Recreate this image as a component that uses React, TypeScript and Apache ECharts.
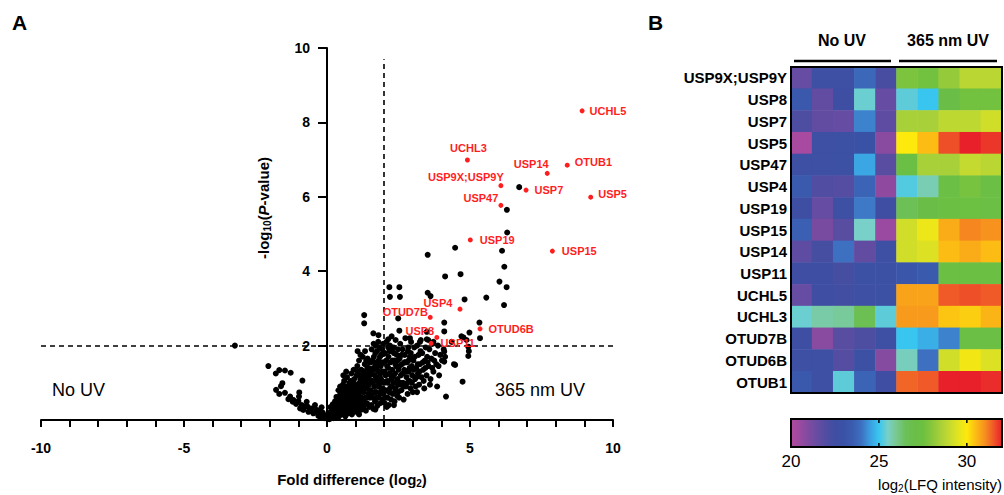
import React, { useEffect, useRef } from "react";
import * as echarts from "echarts";

// ---------------- Panel A data ----------------
const X_MIN = -10, X_MAX = 10, X_INTERVAL = 1;
const Y_MIN = 0, Y_MAX = 10, Y_INTERVAL = 2;
const FC_THRESHOLD = 2;
const P_THRESHOLD = 2;
const FC_LINE_TOP = 9.7;

const negativeSide: [number, number][] = [
  [-3.22, 2.0], [-2.05, 1.45], [-1.79, 1.25], [-1.67, 1.34], [-1.47, 1.33], [-1.27, 1.27], [-0.86, 1.06],
  [-1.56, 0.99], [-1.61, 0.91], [-1.78, 0.81], [-1.67, 0.7], [-1.47, 0.73], [-1.29, 0.63], [-1.18, 0.54],
  [-0.97, 0.74], [-0.98, 0.63], [-1.0, 0.51], [-1.08, 0.43], [-0.88, 0.4], [-0.71, 0.49], [-0.68, 0.36],
  [-0.54, 0.31], [-0.42, 0.4], [-0.36, 0.27], [-0.24, 0.22], [-0.19, 0.34], [-0.13, 0.13], [-0.03, 0.07],
  [-0.83, 0.27], [-0.65, 0.22], [-0.48, 0.18], [-0.3, 0.11], [-1.2, 0.49], [-1.35, 0.56], [-0.94, 0.31],
  [-0.77, 0.36], [-0.57, 0.25], [-0.38, 0.2], [-0.1, 0.05], [-0.15, 0.2], [-0.06, 0.12], [-0.22, 0.08],
];

const cloudNear: [number, number][] = [
  [0.02, 0.03], [0.05, 0.08], [0.08, 0.02], [0.1, 0.12], [0.12, 0.2], [0.15, 0.05], [0.18, 0.15], [0.2, 0.28],
  [0.22, 0.1], [0.25, 0.35], [0.27, 0.2], [0.3, 0.06], [0.3, 0.45], [0.32, 0.28], [0.35, 0.15], [0.36, 0.55],
  [0.38, 0.38], [0.4, 0.22], [0.42, 0.1], [0.42, 0.62], [0.44, 0.45], [0.45, 0.3], [0.47, 0.72], [0.48, 0.18],
  [0.5, 0.52], [0.5, 0.38], [0.15, 0.3], [0.2, 0.42], [0.25, 0.12], [0.33, 0.62], [0.4, 0.8], [0.46, 0.9],
  [0.06, 0.18], [0.28, 0.5], [0.37, 0.08], [0.12, 0.35],
  [0.52, 0.15], [0.53, 0.7], [0.55, 0.4], [0.56, 0.95], [0.58, 0.28], [0.6, 0.55], [0.6, 1.05], [0.62, 0.2],
  [0.63, 0.8], [0.65, 0.45], [0.66, 0.65], [0.68, 0.32], [0.7, 1.15], [0.7, 0.9], [0.72, 0.5], [0.73, 0.18],
  [0.75, 0.72], [0.76, 0.38], [0.78, 1.0], [0.8, 0.6], [0.8, 0.25], [0.82, 0.85], [0.84, 0.45], [0.85, 1.25],
  [0.86, 0.68], [0.88, 0.3], [0.9, 0.95], [0.9, 0.55], [0.92, 0.78], [0.94, 0.4], [0.95, 1.1], [0.96, 0.22],
  [0.98, 0.65], [1.0, 0.88], [1.0, 0.48], [0.57, 1.2], [0.67, 1.3], [0.74, 0.6], [0.83, 1.05], [0.93, 1.35],
  [0.55, 0.85], [0.64, 0.1], [0.87, 0.15], [0.79, 0.82],
];

const cloudMid: [number, number][] = [
  [1.02, 0.3], [1.03, 1.2], [1.05, 0.7], [1.06, 1.45], [1.08, 0.5], [1.1, 0.95], [1.1, 0.2], [1.12, 1.6],
  [1.13, 0.82], [1.15, 0.4], [1.16, 1.1], [1.18, 0.62], [1.2, 1.35], [1.2, 0.28], [1.22, 0.9], [1.24, 0.5],
  [1.25, 1.7], [1.26, 1.2], [1.28, 0.75], [1.3, 0.38], [1.3, 1.0], [1.32, 1.5], [1.34, 0.6], [1.35, 1.3],
  [1.36, 0.25], [1.38, 0.85], [1.4, 1.1], [1.4, 0.45], [1.42, 1.65], [1.44, 0.7], [1.45, 1.4], [1.46, 0.95],
  [1.48, 0.35], [1.5, 1.2], [1.5, 0.6], [1.07, 1.85], [1.17, 1.75], [1.33, 1.85], [1.12, 0.15], [1.27, 0.98],
  [1.43, 1.25], [1.23, 0.4], [1.37, 1.6],
  [1.52, 0.8], [1.53, 1.55], [1.55, 0.4], [1.56, 1.9], [1.58, 1.05], [1.6, 0.6], [1.6, 1.35], [1.62, 0.3],
  [1.64, 1.7], [1.65, 0.9], [1.66, 1.2], [1.68, 0.5], [1.7, 1.5], [1.7, 2.0], [1.72, 0.75], [1.74, 1.05],
  [1.75, 1.85], [1.76, 0.38], [1.78, 1.3], [1.8, 0.6], [1.8, 1.6], [1.82, 0.95], [1.84, 1.95], [1.85, 1.15],
  [1.86, 0.45], [1.88, 1.45], [1.9, 0.8], [1.9, 1.75], [1.92, 1.05], [1.94, 0.55], [1.95, 1.3], [1.96, 2.05],
  [1.98, 0.7], [2.0, 1.55], [2.0, 1.0], [1.57, 1.25], [1.63, 2.05], [1.69, 0.28], [1.73, 1.4], [1.79, 2.1],
  [1.87, 1.25], [1.93, 1.9], [1.54, 1.05], [1.67, 1.55],
];

const cloudFar: [number, number][] = [
  [2.02, 0.45], [2.03, 1.8], [2.05, 1.2], [2.06, 0.8], [2.08, 2.1], [2.1, 1.45], [2.12, 0.6], [2.13, 1.0],
  [2.15, 1.7], [2.16, 0.4], [2.18, 1.25], [2.2, 2.0], [2.2, 0.85], [2.22, 1.55], [2.24, 0.55], [2.25, 1.1],
  [2.27, 1.85], [2.28, 1.35], [2.3, 0.7], [2.32, 1.95], [2.33, 1.0], [2.35, 1.6], [2.36, 0.5], [2.38, 1.25],
  [2.4, 2.15], [2.4, 0.85], [2.42, 1.45], [2.44, 1.75], [2.45, 0.65], [2.46, 1.1], [2.48, 1.9], [2.5, 1.35],
  [2.5, 0.95], [2.09, 0.35], [2.26, 2.25], [2.34, 0.4], [2.14, 1.95],
  [2.52, 0.6], [2.54, 1.65], [2.56, 2.05], [2.58, 1.2], [2.6, 0.8], [2.62, 1.5], [2.64, 1.9], [2.66, 1.0],
  [2.68, 0.55], [2.7, 1.35], [2.72, 1.75], [2.74, 2.2], [2.76, 0.9], [2.78, 1.15], [2.8, 1.55], [2.82, 0.7],
  [2.84, 1.95], [2.86, 1.3], [2.88, 1.05], [2.9, 1.7], [2.92, 0.85], [2.94, 2.1], [2.96, 1.45], [2.98, 1.2],
  [3.0, 0.75], [2.59, 0.95], [2.71, 1.55], [2.83, 1.85],
  [3.02, 1.6], [3.05, 1.95], [3.08, 1.1], [3.1, 0.9], [3.12, 1.4], [3.15, 2.0], [3.18, 1.25], [3.2, 1.75],
  [3.22, 0.95], [3.25, 1.5], [3.28, 2.15], [3.3, 1.15], [3.33, 1.8], [3.36, 1.35], [3.4, 0.85], [3.42, 1.6],
  [3.45, 1.95], [3.48, 1.2], [3.5, 1.7], [3.15, 0.75],
  [3.55, 1.45], [3.58, 1.9], [3.62, 1.1], [3.65, 1.65], [3.7, 2.05], [3.72, 1.3], [3.78, 1.8], [3.82, 1.5],
  [3.88, 2.0], [3.92, 1.2], [3.96, 1.75], [4.02, 1.6], [4.08, 1.9], [3.6, 0.95], [3.85, 0.9],
];

const cloudDense: [number, number][] = [
  [0.15, 0.22], [0.22, 0.05], [0.28, 0.32], [0.34, 0.42], [0.4, 0.5], [0.45, 0.6], [0.5, 0.25], [0.55, 0.55],
  [0.6, 0.75], [0.62, 0.42], [0.68, 0.58], [0.7, 0.25], [0.72, 0.85], [0.77, 0.5], [0.8, 0.95], [0.82, 0.35],
  [0.85, 0.58], [0.88, 0.82], [0.9, 0.4], [0.93, 1.0], [0.97, 0.75], [1.0, 0.6], [1.03, 0.95], [1.05, 0.4],
  [1.08, 1.3], [1.1, 0.7], [1.14, 1.0], [1.16, 0.55], [1.19, 1.2], [1.21, 0.78], [1.25, 1.05], [1.28, 0.55],
  [1.3, 1.3], [1.33, 0.85], [1.36, 1.15], [1.39, 0.6], [1.41, 1.4], [1.44, 0.95], [1.47, 1.55], [1.49, 0.8],
  [1.52, 1.35], [1.55, 0.65], [1.58, 1.6], [1.61, 1.0], [1.63, 1.4], [1.66, 0.75], [1.69, 1.8], [1.71, 1.15],
  [1.74, 0.6], [1.77, 1.5], [1.79, 0.9], [1.82, 1.3], [1.85, 1.7], [1.87, 0.7], [1.89, 1.1], [1.92, 1.55],
  [1.95, 0.85], [1.97, 1.8], [2.01, 1.3], [2.04, 0.6], [2.07, 1.6], [2.11, 1.05], [2.14, 1.4], [2.17, 0.75],
  [2.19, 1.85], [2.23, 1.2], [2.26, 0.9], [2.29, 1.6], [2.31, 1.15], [2.34, 1.8], [2.37, 0.75], [2.39, 1.5],
  [2.43, 1.0], [2.47, 1.6], [2.49, 0.75], [2.53, 1.45], [2.57, 1.0], [2.61, 1.75], [2.65, 1.25], [2.69, 0.9],
  [2.73, 1.55], [2.77, 1.3], [2.81, 1.0], [2.85, 1.6], [2.89, 1.4], [2.93, 1.8], [2.97, 1.0], [3.03, 1.35],
  [3.07, 1.7], [3.13, 1.15], [3.17, 1.5], [3.23, 1.3], [3.27, 1.85], [3.35, 1.55], [3.38, 1.05], [3.44, 1.4],
  [3.52, 1.55], [3.68, 1.4], [3.75, 1.6], [3.9, 1.45],
];

const outliers: [number, number][] = [
  [6.72, 6.26], [6.29, 5.65], [6.3, 5.04], [6.12, 4.55], [6.2, 4.12], [6.03, 3.72], [6.28, 3.57], [6.19, 3.09],
  [4.48, 4.63], [3.52, 4.44], [4.13, 3.86], [4.67, 3.92], [2.18, 3.57], [2.53, 3.57], [2.2, 3.31], [2.55, 3.31],
  [3.52, 3.42], [3.62, 3.33], [4.81, 3.24], [5.57, 3.29], [2.49, 2.73], [1.3, 2.82], [1.3, 2.6], [2.53, 2.4],
  [4.1, 2.62], [4.1, 2.38], [5.33, 2.62], [5.35, 2.2], [4.98, 2.35], [4.77, 2.22], [4.88, 2.15], [4.7, 2.25],
  [1.62, 2.33], [1.8, 2.28], [2.14, 2.17], [2.9, 2.2], [3.25, 2.1], [3.49, 2.17], [3.72, 2.1], [3.49, 2.37],
  [3.54, 2.15], [4.36, 2.1], [4.94, 1.97], [4.94, 1.72], [4.96, 1.85], [4.48, 1.48], [4.13, 1.7], [4.1, 1.84],
  [4.1, 1.57], [4.44, 1.5], [4.74, 1.03], [4.16, 0.63],
];

const dubNames = ["UCHL5", "UCHL3", "USP14", "OTUB1", "USP9X;USP9Y", "USP7", "USP5", "USP47", "USP19", "USP15", "USP4", "OTUD7B", "OTUD6B", "USP8", "USP11"];
const dubFold = [8.92, 4.91, 7.70, 8.40, 6.08, 6.96, 9.22, 6.08, 5.01, 7.88, 4.65, 3.61, 5.35, 3.84, 3.64];
const dubLogP = [8.31, 6.99, 6.63, 6.85, 6.30, 6.18, 5.99, 5.77, 4.84, 4.54, 2.98, 2.76, 2.45, 2.22, 2.06];

// label placement (layout only)
const LABEL_LAYOUT: Record<string, { pos: string; offset: number[]; distance: number }> = {
  UCHL5: { pos: "right", offset: [0, 0], distance: 5 },
  UCHL3: { pos: "top", offset: [1, -4], distance: 0 },
  USP14: { pos: "top", offset: [-16, -1], distance: 0 },
  OTUB1: { pos: "right", offset: [0, -3], distance: 5 },
  "USP9X;USP9Y": { pos: "top", offset: [-35, -1], distance: 0 },
  USP7: { pos: "right", offset: [0, 0], distance: 6 },
  USP5: { pos: "right", offset: [0, -3], distance: 5 },
  USP47: { pos: "top", offset: [-20, 1], distance: 0 },
  USP19: { pos: "right", offset: [0, 0], distance: 7 },
  USP15: { pos: "right", offset: [0, 0], distance: 7 },
  USP4: { pos: "top", offset: [-22, 2], distance: 0 },
  OTUD7B: { pos: "top", offset: [-25, 3], distance: 0 },
  OTUD6B: { pos: "right", offset: [0, 0], distance: 6 },
  USP8: { pos: "top", offset: [-17, 2], distance: 0 },
  USP11: { pos: "right", offset: [0, 0], distance: 7 },
};

// ---------------- Panel B data ----------------
const hmGenes = ["USP9X;USP9Y", "USP8", "USP7", "USP5", "USP47", "USP4", "USP19", "USP15", "USP14", "USP11", "UCHL5", "UCHL3", "OTUD7B", "OTUD6B", "OTUB1"];
const hmSamples = ["No UV 1", "No UV 2", "No UV 3", "No UV 4", "No UV 5", "365 nm UV 1", "365 nm UV 2", "365 nm UV 3", "365 nm UV 4", "365 nm UV 5"];
const hmValues: number[][] = [
  [21.5, 22.7, 22.7, 23.8, 22.2, 27.8, 27.6, 28.2, 28.8, 28.8],
  [23.3, 21.6, 22.6, 25.4, 21.5, 25.3, 25.0, 27.0, 27.6, 27.6],
  [22.1, 21.6, 21.5, 24.2, 21.7, 28.5, 28.5, 28.9, 28.9, 29.2],
  [20.2, 22.7, 22.8, 23.0, 20.8, 30.0, 30.5, 31.6, 32.0, 31.8],
  [22.7, 22.7, 22.8, 24.6, 21.8, 27.2, 28.5, 28.5, 29.0, 28.8],
  [23.4, 22.0, 21.9, 23.7, 20.7, 25.2, 25.7, 27.2, 27.7, 27.2],
  [22.6, 21.5, 22.7, 24.1, 22.5, 26.6, 27.0, 27.3, 27.4, 27.2],
  [23.6, 21.1, 21.8, 25.5, 20.5, 29.2, 29.7, 30.7, 31.1, 31.0],
  [21.7, 22.3, 24.0, 21.6, 22.7, 29.2, 29.4, 30.5, 30.7, 30.5],
  [22.5, 22.6, 22.3, 22.8, 22.8, 23.2, 23.4, 27.3, 27.3, 27.3],
  [21.5, 22.5, 22.4, 22.7, 22.8, 30.8, 30.8, 31.5, 31.6, 31.5],
  [25.4, 25.8, 25.9, 26.7, 25.3, 30.9, 30.9, 30.4, 30.3, 30.6],
  [22.6, 20.8, 21.8, 22.1, 22.7, 25.0, 24.7, 24.2, 27.2, 27.2],
  [22.7, 22.7, 21.9, 22.8, 20.9, 25.6, 24.0, 29.2, 29.8, 29.4],
  [23.3, 22.7, 25.3, 23.7, 22.5, 31.4, 31.5, 32.0, 32.0, 31.9],
];
const CB_MIN = 20, CB_MAX = 32;
const CB_TICKS = [20, 25, 30];
const CB_COLORS = [
  "#b24a9e", "#9a4aa0", "#7e4ba0", "#664ca2", "#504da2", "#3f4ea2", "#3a52a6", "#3a5cb0", "#3d70c0",
  "#3b9ee0", "#38c6f0", "#78d0c8", "#78c890", "#6cc05a", "#6abe48", "#6cc040", "#88c63c", "#a8d038",
  "#c4da30", "#e2e420", "#fde90c", "#fcbc14", "#f7921e", "#f05a28", "#e8202a",
];

// ---------------- layout ----------------
const FONT = "'Liberation Sans', Arial, Helvetica, sans-serif";
const VG = { left: 41, top: 48, width: 572, height: 372 };
const HG = { left: 791, top: 67, width: 211, height: 326 };
const CB = { x: 791, y: 419, w: 211, h: 28 };
const RED = "#ff1e1e";

export default function App() {
  const ref = useRef<HTMLDivElement>(null);

  useEffect(() => {
    if (!ref.current) return;
    const chart = echarts.init(ref.current, undefined, { renderer: "svg" });

    const black = [...negativeSide, ...cloudNear, ...cloudMid, ...cloudFar, ...cloudDense, ...outliers];
    const redData = dubNames.map((n, i) => {
      const l = LABEL_LAYOUT[n];
      return {
        name: n,
        value: [dubFold[i], dubLogP[i]],
        label: { position: l.pos, offset: l.offset, distance: l.distance },
      };
    });
    const hmData: number[][] = [];
    hmValues.forEach((row, r) => row.forEach((v, c) => hmData.push([c, r, v])));

    // y axis crosses at x = 0
    const yAxisOffset = -VG.width * ((0 - X_MIN) / (X_MAX - X_MIN));

    const cbX = (v: number) => CB.x + ((v - CB_MIN) / (CB_MAX - CB_MIN)) * CB.w;
    const graphics: any[] = [
      { type: "text", x: 12, y: 12, style: { text: "A", fontSize: 21, fontWeight: "bold", fontFamily: FONT, fill: "#000" } },
      { type: "text", x: 648, y: 12, style: { text: "B", fontSize: 21, fontWeight: "bold", fontFamily: FONT, fill: "#000" } },
      { type: "text", x: 52, y: 390, style: { text: "No UV", fontSize: 18, fontFamily: FONT, fill: "#000", verticalAlign: "middle" } },
      { type: "text", x: 495, y: 390, style: { text: "365 nm UV", fontSize: 18, fontFamily: FONT, fill: "#000", verticalAlign: "middle" } },
      {
        type: "text", x: 352, y: 479,
        style: {
          text: "Fold difference (log{sub|2})", fontSize: 15, fontWeight: "bold", fontFamily: FONT, fill: "#000",
          align: "center", verticalAlign: "middle",
          rich: { sub: { fontSize: 10, fontWeight: "bold", fontFamily: FONT, padding: [8, 0, 0, 0] } },
        },
      },
      {
        type: "text", x: 263, y: 208, rotation: Math.PI / 2,
        style: {
          text: "-log{sub|10}({it|P}-value)", fontSize: 15, fontWeight: "bold", fontFamily: FONT, fill: "#000",
          align: "center", verticalAlign: "middle",
          rich: {
            sub: { fontSize: 10, fontWeight: "bold", fontFamily: FONT, padding: [8, 0, 0, 0] },
            it: { fontSize: 15, fontWeight: "bold", fontStyle: "italic", fontFamily: FONT },
          },
        },
      },
      // heatmap group headers
      { type: "text", x: 842, y: 40, style: { text: "No UV", fontSize: 16, fontWeight: "bold", fontFamily: FONT, fill: "#000", align: "center", verticalAlign: "middle" } },
      { type: "text", x: 948, y: 40, style: { text: "365 nm UV", fontSize: 16, fontWeight: "bold", fontFamily: FONT, fill: "#000", align: "center", verticalAlign: "middle" } },
      { type: "line", shape: { x1: 794, y1: 61, x2: 891, y2: 61 }, style: { stroke: "#000", lineWidth: 2.5 } },
      { type: "line", shape: { x1: 899, y1: 61, x2: 997, y2: 61 }, style: { stroke: "#000", lineWidth: 2.5 } },
      // heatmap frame
      { type: "rect", z: 100, shape: { x: HG.left, y: HG.top, width: HG.width, height: HG.height }, style: { fill: "none", stroke: "#000", lineWidth: 2 } },
      // colorbar
      {
        type: "rect", z: 100, shape: { x: CB.x, y: CB.y, width: CB.w, height: CB.h },
        style: {
          stroke: "#000", lineWidth: 2,
          fill: new echarts.graphic.LinearGradient(0, 0, 1, 0, CB_COLORS.map((c, i) => ({ offset: i / (CB_COLORS.length - 1), color: c }))),
        },
      },
      {
        type: "text", x: 1002, y: 484,
        style: {
          text: "log{sub|2}(LFQ intensity)", fontSize: 15, fontFamily: FONT, fill: "#000", align: "right", verticalAlign: "middle",
          rich: { sub: { fontSize: 10, fontFamily: FONT, padding: [8, 0, 0, 0] } },
        },
      },
    ];
    CB_TICKS.forEach((t) => {
      const x = cbX(t);
      graphics.push({ type: "text", x, y: 461, style: { text: String(t), fontSize: 17, fontFamily: FONT, fill: "#000", align: "center", verticalAlign: "middle" } });
      if (t > CB_MIN && t < CB_MAX) {
        graphics.push({ type: "line", z: 101, shape: { x1: x, y1: CB.y, x2: x, y2: CB.y + 4 }, style: { stroke: "#000", lineWidth: 1.5 } });
        graphics.push({ type: "line", z: 101, shape: { x1: x, y1: CB.y + CB.h - 4, x2: x, y2: CB.y + CB.h }, style: { stroke: "#000", lineWidth: 1.5 } });
      }
    });

    chart.setOption({
      animation: false,
      textStyle: { fontFamily: FONT },
      grid: [
        { left: VG.left, top: VG.top, width: VG.width, height: VG.height },
        { left: HG.left, top: HG.top, width: HG.width, height: HG.height },
      ],
      xAxis: [
        {
          type: "value", gridIndex: 0, min: X_MIN, max: X_MAX, interval: X_INTERVAL,
          axisLine: { onZero: false, lineStyle: { color: "#000", width: 2 } },
          axisTick: { length: 7, lineStyle: { color: "#000", width: 2 } },
          axisLabel: {
            interval: 0, margin: 21, color: "#000", fontSize: 14, fontWeight: "bold", fontFamily: FONT,
            formatter: (v: number) => (v % 5 === 0 ? String(v) : ""),
          },
          splitLine: { show: false },
        },
        { type: "category", gridIndex: 1, data: hmSamples, show: false },
      ],
      yAxis: [
        {
          type: "value", gridIndex: 0, min: Y_MIN, max: Y_MAX, interval: Y_INTERVAL,
          position: "left", offset: yAxisOffset,
          axisLine: { onZero: false, lineStyle: { color: "#000", width: 2 } },
          axisTick: { length: 9, lineStyle: { color: "#000", width: 2 } },
          axisLabel: {
            margin: 17, color: "#000", fontSize: 14, fontWeight: "bold", fontFamily: FONT,
            formatter: (v: number) => (v === 0 ? "" : String(v)),
          },
          splitLine: { show: false },
        },
        {
          type: "category", gridIndex: 1, data: hmGenes, inverse: true,
          axisLine: { show: false },
          axisTick: { length: 5, alignWithLabel: true, lineStyle: { color: "#000", width: 2 } },
          axisLabel: { margin: 4, color: "#000", fontSize: 15, fontWeight: "bold", fontFamily: FONT },
        },
      ],
      visualMap: {
        type: "continuous", show: false, min: CB_MIN, max: CB_MAX, dimension: 2, seriesIndex: 2,
        inRange: { color: CB_COLORS },
      },
      series: [
        {
          type: "scatter", xAxisIndex: 0, yAxisIndex: 0, data: black, symbolSize: 6,
          itemStyle: { color: "#000", opacity: 1 }, silent: true,
          markLine: {
            silent: true, symbol: "none", label: { show: false },
            lineStyle: { color: "#000", type: [5, 4], width: 1.6, opacity: 1 },
            data: [
              { yAxis: P_THRESHOLD },
              [{ coord: [FC_THRESHOLD, Y_MIN] }, { coord: [FC_THRESHOLD, FC_LINE_TOP] }],
            ],
          },
        },
        {
          type: "scatter", xAxisIndex: 0, yAxisIndex: 0, data: redData, symbolSize: 5, z: 5,
          itemStyle: { color: RED, opacity: 1 },
          label: {
            show: true, formatter: "{b}", color: RED, opacity: 1, fontSize: 11, fontWeight: "bold", fontFamily: FONT,
          },
        },
        {
          type: "heatmap", xAxisIndex: 1, yAxisIndex: 1, data: hmData,
          itemStyle: { borderWidth: 0 },
        },
      ],
      graphic: graphics,
    });

    return () => chart.dispose();
  }, []);

  return <div ref={ref} style={{ position: "fixed", left: 0, top: 0, width: 1004, height: 495, background: "#fff" }} />;
}
